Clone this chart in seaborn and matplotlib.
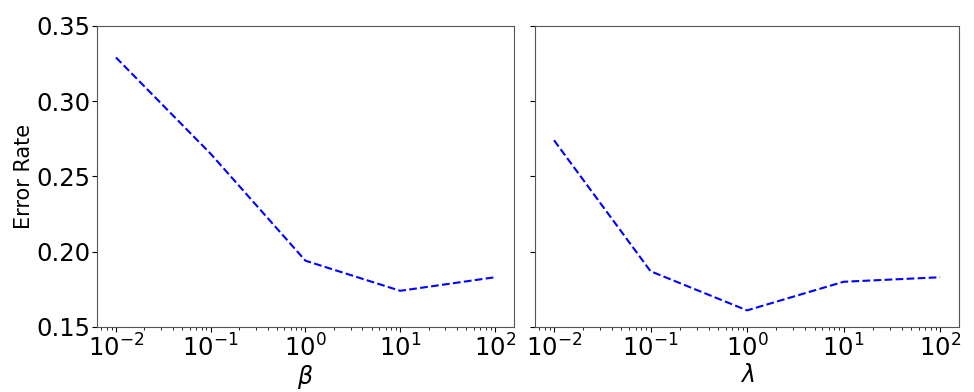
import numpy as np
import pandas as pd
import matplotlib
matplotlib.use("Agg")
import matplotlib.pyplot as plt
import seaborn as sns

# values
params = [0.01, 0.1, 1, 10, 100]
beta_err = [0.329, 0.265, 0.194, 0.174, 0.183]
lambda_err = [0.274, 0.187, 0.161, 0.180, 0.183]

sns.set_style("ticks", {"axes.edgecolor": "#555555", "text.color": "black",
                        "xtick.color": "black", "ytick.color": "black",
                        "axes.labelcolor": "black"})
plt.rcParams["font.family"] = ["DejaVu Sans"]
plt.rcParams["mathtext.fontset"] = "dejavusans"

fig = plt.figure(figsize=(9.74, 3.92), dpi=100)
ax1 = fig.add_axes([0.0996, 0.166, 0.428, 0.768])
ax2 = fig.add_axes([0.549, 0.166, 0.436, 0.768], sharey=ax1)

df_b = pd.DataFrame({"x": params, "err": beta_err})
df_l = pd.DataFrame({"x": params, "err": lambda_err})

sns.lineplot(data=df_b, x="x", y="err", ax=ax1, color="blue", linestyle="--", linewidth=1.5)
sns.lineplot(data=df_l, x="x", y="err", ax=ax2, color="blue", linestyle="--", linewidth=1.5)

for ax, lab in [(ax1, r"$\beta$"), (ax2, r"$\lambda$")]:
    ax.set_xscale("log")
    ax.set_xlim(10**-2.2, 10**2.2)
    ax.set_xlabel(lab, fontsize=17, labelpad=1)
    ax.tick_params(axis="both", which="major", labelsize=17.5, length=3.5, pad=2)
    ax.tick_params(axis="x", which="minor", length=2)

ax1.set_ylim(0.15, 0.35)
ax1.set_yticks([0.15, 0.20, 0.25, 0.30, 0.35])
ax1.tick_params(axis="y", pad=1)
ax1.set_ylabel("Error Rate", fontsize=15, labelpad=2)
ax2.set_ylabel("")
ax2.tick_params(axis="y", labelleft=False)

fig.savefig("out.png", dpi=100)
